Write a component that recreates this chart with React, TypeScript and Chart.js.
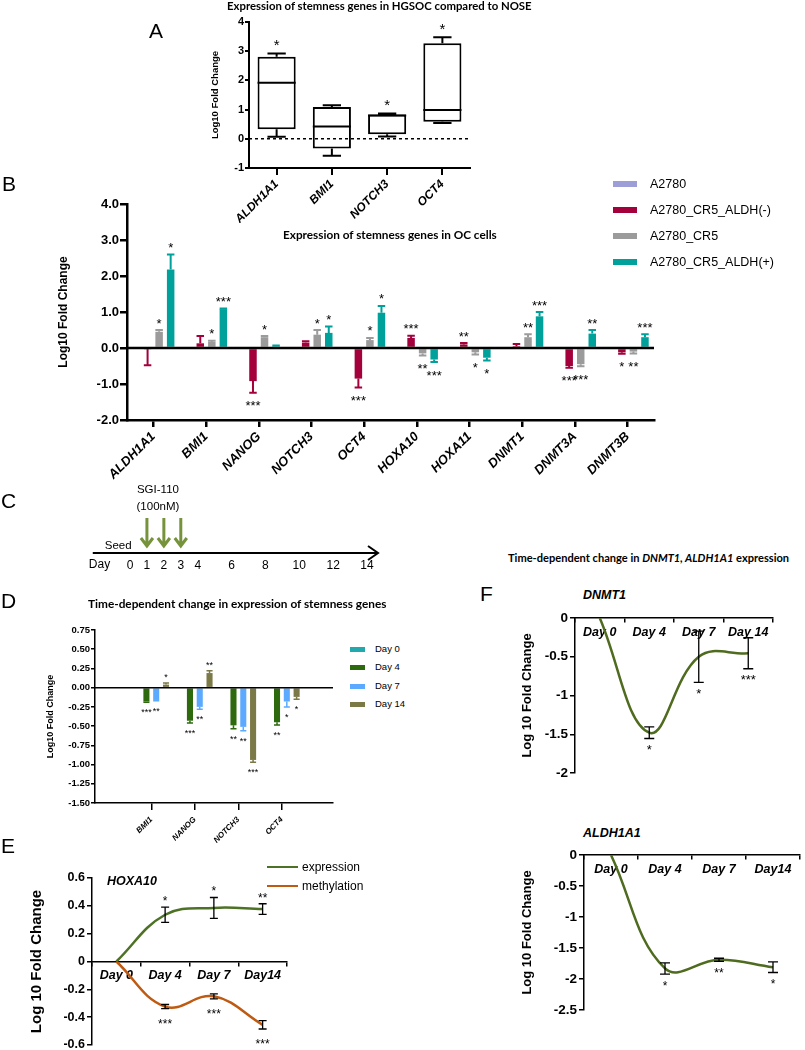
import React, { useEffect, useRef } from 'react';
import { Chart, registerables } from 'chart.js';

Chart.register(...registerables);
Chart.defaults.color = '#000';

const ARIAL = '"Liberation Sans", Arial, Helvetica, sans-serif';
const CALIBRI = 'Lato, "Open Sans", sans-serif';

// ---------------- Panel A : box plot ----------------
const A_GENES = ['ALDH1A1', 'BMI1', 'NOTCH3', 'OCT4'];
const A_MIN = [0.07, -0.58, 0.08, 0.54];
const A_Q1 = [0.33, -0.33, 0.16, 0.58];
const A_MEDIAN = [1.92, 0.42, 0.8, 0.99];
const A_Q3 = [2.81, 1.09, 0.83, 3.27];
const A_MAX = [2.92, 1.15, 0.87, 3.48];
const A_STARS = ['*', '', '*', '*'];

// ---------------- Panel B : grouped bars ----------------
const B_GENES = ['ALDH1A1', 'BMI1', 'NANOG', 'NOTCH3', 'OCT4', 'HOXA10', 'HOXA11', 'DNMT1', 'DNMT3A', 'DNMT3B'];
const B_SERIES = ['A2780', 'A2780_CR5_ALDH(-)', 'A2780_CR5', 'A2780_CR5_ALDH(+)'];
const B_COLORS = ['#9d9dd8', '#a3003c', '#9b9b9b', '#00a19b'];
const B_A2780 = [0, 0, 0, 0, 0, 0, 0, 0, 0, 0];
const B_A2780_ERR = [0, 0, 0, 0, 0, 0, 0, 0, 0, 0];
const B_A2780_STARS = ['', '', '', '', '', '', '', '', '', ''];
const B_ALDH_NEG = [-0.03, 0.13, -0.92, 0.15, -0.85, 0.28, 0.1, 0.05, -0.5, -0.12];
const B_ALDH_NEG_ERR = [0.45, 0.2, 0.32, 0.04, 0.25, 0.06, 0.04, 0.06, 0.05, 0.04];
const B_ALDH_NEG_STARS = ['', '', '***', '', '***', '***', '**', '', '***', '*'];
const B_CR5 = [0.45, 0.17, 0.3, 0.37, 0.22, -0.15, -0.12, 0.3, -0.45, -0.1];
const B_CR5_ERR = [0.05, 0.03, 0.03, 0.13, 0.06, 0.06, 0.06, 0.08, 0.06, 0.05];
const B_CR5_STARS = ['*', '*', '*', '*', '*', '**', '*', '**', '***', '**'];
const B_ALDH_POS = [2.18, 1.08, 0.05, 0.42, 0.98, -0.32, -0.27, 0.88, 0.4, 0.3];
const B_ALDH_POS_ERR = [0.42, 0.02, 0.02, 0.18, 0.19, 0.07, 0.08, 0.12, 0.1, 0.08];
const B_ALDH_POS_STARS = ['*', '***', '', '*', '*', '***', '*', '***', '**', '***'];

// ---------------- Panel C : timeline ----------------
const C_DAYS = [0, 1, 2, 3, 4, 6, 8, 10, 12, 14];
const C_TREATMENT_DAYS = [1, 2, 3];
const C_ARROW_COLOR = '#76933c';

// ---------------- Panel D : grouped bars ----------------
const D_GENES = ['BMI1', 'NANOG', 'NOTCH3', 'OCT4'];
const D_SERIES = ['Day 0', 'Day 4', 'Day 7', 'Day 14'];
const D_COLORS = ['#22a9ae', '#2d6a0e', '#5caaff', '#7b7946'];
const D_DAY0 = [0, 0, 0, 0];
const D_DAY0_ERR = [0, 0, 0, 0];
const D_DAY0_STARS = ['', '', '', ''];
const D_DAY4 = [-0.18, -0.43, -0.49, -0.45];
const D_DAY4_ERR = [0.01, 0.03, 0.045, 0.035];
const D_DAY4_STARS = ['***', '***', '**', '**'];
const D_DAY7 = [-0.16, -0.25, -0.51, -0.18];
const D_DAY7_ERR = [0.01, 0.03, 0.05, 0.07];
const D_DAY7_STARS = ['**', '**', '**', '*'];
const D_DAY14 = [0.04, 0.19, -0.94, -0.12];
const D_DAY14_ERR = [0.02, 0.03, 0.03, 0.03];
const D_DAY14_STARS = ['*', '**', '***', '*'];

// ---------------- Panel E : HOXA10 lines ----------------
const E_DAYS = ['Day 0', 'Day 4', 'Day 7', 'Day14'];
const E_SERIES = ['expression', 'methylation'];
const E_COLORS = ['#4e7225', '#bf5a12'];
const E_EXPRESSION = [0, 0.336, 0.385, 0.377];
const E_EXPRESSION_ERR = [0, 0.055, 0.075, 0.038];
const E_EXPRESSION_STARS = ['', '*', '*', '**'];
const E_METHYLATION = [0, -0.324, -0.25, -0.455];
const E_METHYLATION_ERR = [0, 0.015, 0.018, 0.03];
const E_METHYLATION_STARS = ['', '***', '***', '***'];

// ---------------- Panel F : DNMT1 / ALDH1A1 lines ----------------
const F_COLOR = '#4f6b1f';
const F_DNMT1_DAYS = ['Day 0', 'Day 4', 'Day 7', 'Day 14'];
const F_DNMT1 = [0, -1.48, -0.5, -0.455];
const F_DNMT1_ERR = [0, 0.075, 0.33, 0.2];
const F_DNMT1_STARS = ['', '*', '*', '***'];
const F_ALDH_DAYS = ['Day 0', 'Day 4', 'Day 7', 'Day14'];
const F_ALDH1A1 = [0, -1.83, -1.69, -1.81];
const F_ALDH1A1_ERR = [0, 0.09, 0.025, 0.085];
const F_ALDH1A1_STARS = ['', '*', '**', '*'];

// ---------------- helpers ----------------
type Box = { x: number; y: number; w: number; h: number };
type Area = { l: number; r: number; t: number; b: number };

function layoutPad(box: Box, area: Area, yW: number, xH: number) {
  return {
    padding: {
      left: area.l - box.x - yW,
      right: box.x + box.w - area.r,
      top: area.t - box.y,
      bottom: box.y + box.h - area.b - xH,
    },
  };
}
const zeroPad = (s: any) => {
  s.paddingTop = 0; s.paddingBottom = 0; s.paddingLeft = 0; s.paddingRight = 0;
};
const fixW = (w: number) => (s: any) => { s.width = w; zeroPad(s); };
const fixH = (h: number) => (s: any) => { s.height = h; zeroPad(s); };

function baseOptions(box: Box, area: Area, yW: number, xH: number) {
  return {
    responsive: false,
    maintainAspectRatio: false,
    animation: false,
    devicePixelRatio: 1,
    events: [],
    layout: layoutPad(box, area, yW, xH),
    plugins: { legend: { display: false }, tooltip: { enabled: false }, title: { display: false } },
  };
}
const tickFont = (size: number, italic = false) => ({ family: ARIAL, size, weight: 'bold', style: italic ? 'italic' : 'normal' });
const axisGrid = (tickLength: number, lw: number, offset = false) => ({
  display: true, drawOnChartArea: false, drawTicks: true, tickLength, color: '#000', lineWidth: lw, offset,
});
const axisBorder = (w: number) => ({ display: true, color: '#000', width: w });
const yTitle = (text: string, size: number) => ({
  display: true, text, font: { family: ARIAL, size, weight: 'bold' }, color: '#000', padding: 0,
});

function drawStars(ctx: any, text: string, x: number, cy: number, size: number) {
  ctx.save();
  ctx.font = `${size}px ${ARIAL}`;
  ctx.fillStyle = '#000';
  ctx.textAlign = 'center';
  ctx.textBaseline = 'alphabetic';
  ctx.fillText(text, x, cy + 0.58 * size);
  ctx.restore();
}

function zeroLinePlugin(id: string, lw: number) {
  return {
    id,
    afterDatasetsDraw(chart: any) {
      const { ctx, chartArea } = chart;
      const y = chart.scales.y.getPixelForValue(0);
      ctx.save();
      ctx.strokeStyle = '#000';
      ctx.lineWidth = lw;
      ctx.beginPath();
      ctx.moveTo(chartArea.left, y);
      ctx.lineTo(chartArea.right, y);
      ctx.stroke();
      ctx.restore();
    },
  };
}

function barErrPlugin(id: string, vals: number[][], errs: number[][], stars: string[][], colors: string[], lw: number, starSize: number, gap: number) {
  return {
    id,
    afterDatasetsDraw(chart: any) {
      const { ctx } = chart;
      const ys = chart.scales.y;
      vals.forEach((arr, di) => {
        const meta = chart.getDatasetMeta(di);
        arr.forEach((v, i) => {
          const el: any = meta.data[i];
          if (!el) return;
          const sign = v >= 0 ? 1 : -1;
          const e = errs[di][i];
          const yBar = ys.getPixelForValue(v);
          const yEnd = ys.getPixelForValue(v + sign * e);
          if (e > 0) {
            ctx.save();
            ctx.strokeStyle = colors[di];
            ctx.lineWidth = lw;
            ctx.beginPath();
            ctx.moveTo(el.x, yBar);
            ctx.lineTo(el.x, yEnd);
            ctx.moveTo(el.x - el.width / 2, yEnd);
            ctx.lineTo(el.x + el.width / 2, yEnd);
            ctx.stroke();
            ctx.restore();
          }
          const s = stars[di][i];
          if (s) drawStars(ctx, s, el.x, yEnd - sign * gap, starSize);
        });
      });
    },
  };
}

function lineErrPlugin(id: string, vals: number[][], errs: number[][], stars: string[][], dirs: number[], gaps: number[], capHalf: number, starSize: number) {
  return {
    id,
    afterDatasetsDraw(chart: any) {
      const { ctx } = chart;
      const ys = chart.scales.y;
      vals.forEach((arr, di) => {
        const meta = chart.getDatasetMeta(di);
        arr.forEach((v, i) => {
          const el: any = meta.data[i];
          if (!el) return;
          const e = errs[di][i];
          const yT = ys.getPixelForValue(v + e);
          const yB = ys.getPixelForValue(v - e);
          if (e > 0) {
            ctx.save();
            ctx.strokeStyle = '#000';
            ctx.lineWidth = 1.3;
            ctx.beginPath();
            ctx.moveTo(el.x, yT); ctx.lineTo(el.x, yB);
            ctx.moveTo(el.x - capHalf, yT); ctx.lineTo(el.x + capHalf, yT);
            ctx.moveTo(el.x - capHalf, yB); ctx.lineTo(el.x + capHalf, yB);
            ctx.stroke();
            ctx.restore();
          }
          const s = stars[di][i];
          if (s) drawStars(ctx, s, el.x, dirs[di] > 0 ? yT - gaps[di] : yB + gaps[di], starSize);
        });
      });
    },
  };
}

function ChartBox({ box, make }: { box: Box; make: () => any }) {
  const ref = useRef<HTMLCanvasElement>(null);
  useEffect(() => {
    const chart = new Chart(ref.current as HTMLCanvasElement, make());
    return () => chart.destroy();
  }, []);
  return (
    <canvas
      ref={ref}
      width={box.w}
      height={box.h}
      style={{ position: 'absolute', left: box.x, top: box.y, width: box.w, height: box.h }}
    />
  );
}

function fitSize(text: string, family: string, weight: string, width: number) {
  const c = document.createElement('canvas').getContext('2d') as CanvasRenderingContext2D;
  c.font = `${weight} 100px ${family}`;
  return (100 * width) / c.measureText(text).width;
}

function Txt({ x, y, size, children, bold = false, italic = false, family = ARIAL, color = '#000' }: any) {
  return (
    <div
      style={{
        position: 'absolute', left: x, top: y, transform: 'translateY(-50%)',
        fontFamily: family, fontSize: size, fontWeight: bold ? 700 : 400,
        fontStyle: italic ? 'italic' : 'normal', lineHeight: 1, whiteSpace: 'nowrap', color,
      }}
    >
      {children}
    </div>
  );
}

// ---------------- Chart A ----------------
const A_BOX = { x: 150, y: 12, w: 340, h: 222 };
const A_AREA = { l: 249, r: 470, t: 22, b: 168 };
const boxPlotPlugin = {
  id: 'boxWhiskers',
  afterDatasetsDraw(chart: any) {
    const { ctx, chartArea } = chart;
    const ys = chart.scales.y;
    const meta = chart.getDatasetMeta(0);
    ctx.save();
    const y0 = ys.getPixelForValue(0);
    ctx.strokeStyle = '#000';
    ctx.lineWidth = 1.5;
    ctx.setLineDash([3, 3]);
    ctx.beginPath();
    ctx.moveTo(chartArea.left, y0);
    ctx.lineTo(chartArea.right, y0);
    ctx.stroke();
    ctx.setLineDash([]);
    ctx.lineWidth = 2;
    meta.data.forEach((el: any, i: number) => {
      const half = el.width / 2;
      const cap = el.width * 0.24;
      const yMed = ys.getPixelForValue(A_MEDIAN[i]);
      const yQ1 = ys.getPixelForValue(A_Q1[i]);
      const yQ3 = ys.getPixelForValue(A_Q3[i]);
      const yMin = ys.getPixelForValue(A_MIN[i]);
      const yMax = ys.getPixelForValue(A_MAX[i]);
      ctx.beginPath();
      ctx.moveTo(el.x - half, yMed); ctx.lineTo(el.x + half, yMed);
      ctx.moveTo(el.x, yQ3); ctx.lineTo(el.x, yMax);
      ctx.moveTo(el.x - cap, yMax); ctx.lineTo(el.x + cap, yMax);
      ctx.moveTo(el.x, yQ1); ctx.lineTo(el.x, yMin);
      ctx.moveTo(el.x - cap, yMin); ctx.lineTo(el.x + cap, yMin);
      ctx.stroke();
      if (A_STARS[i]) drawStars(ctx, A_STARS[i], el.x, yMax - 12, 15);
    });
    ctx.restore();
  },
};
const makeA = () => ({
  type: 'bar',
  data: {
    labels: A_GENES,
    datasets: [{
      data: A_GENES.map((_, i) => [A_Q1[i], A_Q3[i]]),
      backgroundColor: '#fff', borderColor: '#000', borderWidth: 2, borderSkipped: false,
      categoryPercentage: 1, barPercentage: 0.69,
    }],
  },
  options: {
    ...baseOptions(A_BOX, A_AREA, 39, 55),
    scales: {
      x: {
        type: 'category', offset: true,
        grid: axisGrid(7, 2, false), border: axisBorder(2),
        ticks: { font: tickFont(12, true), color: '#000', maxRotation: 45, minRotation: 45, padding: 2, autoSkip: false },
        afterFit: fixH(55),
      },
      y: {
        min: -1, max: 4,
        ticks: { stepSize: 1, font: tickFont(11), color: '#000', padding: 1 },
        grid: axisGrid(4, 2), border: axisBorder(2),
        title: yTitle('Log10 Fold Change', 9.5),
        afterFit: fixW(39),
      },
    },
  },
  plugins: [boxPlotPlugin],
});

// ---------------- Chart B ----------------
const B_BOX = { x: 0, y: 190, w: 670, h: 300 };
const B_AREA = { l: 127, r: 654, t: 204, b: 420 };
const B_VALUES = [B_A2780, B_ALDH_NEG, B_CR5, B_ALDH_POS];
const B_ERRS = [B_A2780_ERR, B_ALDH_NEG_ERR, B_CR5_ERR, B_ALDH_POS_ERR];
const B_STARS = [B_A2780_STARS, B_ALDH_NEG_STARS, B_CR5_STARS, B_ALDH_POS_STARS];
const makeB = () => ({
  type: 'bar',
  data: {
    labels: B_GENES,
    datasets: B_SERIES.map((name, k) => ({
      label: name, data: B_VALUES[k], backgroundColor: B_COLORS[k], borderWidth: 0,
      categoryPercentage: 0.876, barPercentage: 0.65,
    })),
  },
  options: {
    ...baseOptions(B_BOX, B_AREA, 71, 60),
    scales: {
      x: {
        type: 'category', offset: true,
        grid: axisGrid(7, 2.5, false), border: axisBorder(2.5),
        ticks: { font: tickFont(13, true), color: '#000', maxRotation: 45, minRotation: 45, padding: 2, autoSkip: false },
        afterFit: fixH(60),
      },
      y: {
        min: -2, max: 4,
        ticks: { stepSize: 0.5, font: tickFont(13), color: '#000', padding: 1, callback: (v: number) => v.toFixed(1) },
        grid: axisGrid(7, 2.5), border: axisBorder(2.5),
        title: yTitle('Log10 Fold Change', 12),
        afterFit: fixW(71),
      },
    },
  },
  plugins: [zeroLinePlugin('zeroB', 2.5), barErrPlugin('errB', B_VALUES, B_ERRS, B_STARS, B_COLORS, 2, 13, 10)],
});

// ---------------- Chart C (timeline) ----------------
const C_BOX = { x: 80, y: 470, w: 320, h: 110 };
const C_AREA = { l: 130, r: 367, t: 515, b: 553 };
const C_AXIS_FROM = -2.2;
const C_AXIS_TO = 14.65;
const C_DAY_LABEL_AT = -1.8;
const C_SEED_AT = -0.7;
const C_DRUG_LABEL_AT = 1.65;
const timelinePlugin = {
  id: 'timeline',
  afterDraw(chart: any) {
    const { ctx, chartArea } = chart;
    const xs = chart.scales.x;
    const yAx = chartArea.bottom;
    const xa = xs.getPixelForValue(C_AXIS_FROM);
    const xb = xs.getPixelForValue(C_AXIS_TO);
    ctx.save();
    ctx.strokeStyle = '#000';
    ctx.lineWidth = 2;
    ctx.beginPath();
    ctx.moveTo(xa, yAx); ctx.lineTo(xb, yAx);
    ctx.moveTo(xb - 10, yAx - 7); ctx.lineTo(xb, yAx); ctx.lineTo(xb - 10, yAx + 7);
    ctx.stroke();
    ctx.fillStyle = '#000';
    ctx.textAlign = 'center';
    ctx.textBaseline = 'middle';
    ctx.font = `12px ${ARIAL}`;
    ctx.fillText('Day', xs.getPixelForValue(C_DAY_LABEL_AT), yAx + 12);
    ctx.font = `11.5px ${ARIAL}`;
    ctx.fillText('Seed', xs.getPixelForValue(C_SEED_AT), yAx - 7);
    const xl = xs.getPixelForValue(C_DRUG_LABEL_AT);
    ctx.fillText('SGI-110', xl, yAx - 63);
    ctx.fillText('(100nM)', xl, yAx - 46);
    const meta = chart.getDatasetMeta(0);
    ctx.strokeStyle = C_ARROW_COLOR;
    ctx.lineWidth = 3;
    meta.data.forEach((pt: any) => {
      ctx.beginPath();
      ctx.moveTo(pt.x, yAx - 35); ctx.lineTo(pt.x, yAx - 7);
      ctx.moveTo(pt.x - 6, yAx - 15); ctx.lineTo(pt.x, yAx - 7); ctx.lineTo(pt.x + 6, yAx - 15);
      ctx.stroke();
    });
    ctx.restore();
  },
};
const makeC = () => ({
  type: 'scatter',
  data: { datasets: [{ data: C_TREATMENT_DAYS.map((d) => ({ x: d, y: 0.5 })), pointRadius: 0 }] },
  options: {
    ...baseOptions(C_BOX, C_AREA, 0, 20),
    scales: {
      x: {
        type: 'linear', min: 0, max: 14,
        afterBuildTicks: (s: any) => { s.ticks = C_DAYS.map((d) => ({ value: d })); },
        ticks: { font: { family: ARIAL, size: 12 }, color: '#000', padding: 5, maxRotation: 0, autoSkip: false },
        grid: { display: false, drawTicks: false }, border: { display: false },
        afterFit: fixH(20),
      },
      y: { display: false, min: 0, max: 1 },
    },
  },
  plugins: [timelinePlugin],
});

// ---------------- Chart D ----------------
const D_BOX = { x: 30, y: 620, w: 310, h: 232 };
const D_AREA = { l: 95, r: 333, t: 630, b: 803 };
const D_VALUES = [D_DAY0, D_DAY4, D_DAY7, D_DAY14];
const D_ERRS = [D_DAY0_ERR, D_DAY4_ERR, D_DAY7_ERR, D_DAY14_ERR];
const D_STARS = [D_DAY0_STARS, D_DAY4_STARS, D_DAY7_STARS, D_DAY14_STARS];
const makeD = () => ({
  type: 'bar',
  data: {
    datasets: D_SERIES.map((name, k) => ({
      label: name, data: D_VALUES[k].map((v, i) => ({ x: i, y: v })), backgroundColor: D_COLORS[k],
      borderWidth: 0, categoryPercentage: 0.9, barPercentage: 0.62,
    })),
  },
  options: {
    ...baseOptions(D_BOX, D_AREA, 50, 40),
    scales: {
      x: {
        type: 'linear', min: -0.61, max: 3.49,
        afterBuildTicks: (s: any) => { s.ticks = D_GENES.map((_, i) => ({ value: i })); },
        ticks: { font: tickFont(8, true), color: '#000', maxRotation: 45, minRotation: 45, padding: 5, autoSkip: false, callback: (v: number) => D_GENES[v] ?? '' },
        grid: axisGrid(7, 1.5, false), border: axisBorder(1.5),
        afterFit: fixH(40),
      },
      y: {
        min: -1.5, max: 0.75,
        ticks: { stepSize: 0.25, font: tickFont(9.5), color: '#000', padding: 1, callback: (v: number) => v.toFixed(2) },
        grid: axisGrid(4, 1.5), border: axisBorder(1.5),
        title: yTitle('Log10 Fold Change', 9),
        afterFit: fixW(50),
      },
    },
  },
  plugins: [zeroLinePlugin('zeroD', 1.5), barErrPlugin('errD', D_VALUES, D_ERRS, D_STARS, D_COLORS, 1.5, 9, 8)],
});

// ---------------- Line chart factory (E, F) ----------------
function lineChart(box: Box, area: Area, yW: number, labels: string[], series: any[], yMin: number, yMax: number, step: number, tickSize: number, titleSize: number, plugin: any) {
  return () => ({
    type: 'line',
    data: {
      labels,
      datasets: series.map((s) => ({
        label: s.label, data: s.data, borderColor: s.color, backgroundColor: s.color,
        borderWidth: 2.5, pointRadius: 0, tension: 0.4, fill: false,
      })),
    },
    options: {
      ...baseOptions(box, area, yW, 0),
      scales: {
        x: {
          type: 'category', position: { y: 0 }, offset: true,
          grid: axisGrid(4, 1.5, true), border: axisBorder(1.5),
          ticks: { font: tickFont(12.5, true), color: '#000', padding: 3, maxRotation: 0, autoSkip: false },
          afterFit: zeroPad,
        },
        y: {
          min: yMin, max: yMax,
          ticks: { stepSize: step, font: tickFont(tickSize), color: '#000', padding: 2, callback: (v: number) => String(Math.round(v * 10) / 10) },
          grid: axisGrid(5, 1.5), border: axisBorder(1.5),
          title: yTitle('Log 10 Fold Change', titleSize),
          afterFit: fixW(yW),
        },
      },
    },
    plugins: [plugin],
  });
}

const E_BOX = { x: 20, y: 866, w: 300, h: 190 };
const E_AREA = { l: 92, r: 287, t: 878, b: 1045 };
const makeE = lineChart(
  E_BOX, E_AREA, 64, E_DAYS,
  [
    { label: E_SERIES[0], data: E_EXPRESSION, color: E_COLORS[0] },
    { label: E_SERIES[1], data: E_METHYLATION, color: E_COLORS[1] },
  ],
  -0.6, 0.6, 0.2, 12.5, 15,
  lineErrPlugin('errE', [E_EXPRESSION, E_METHYLATION], [E_EXPRESSION_ERR, E_METHYLATION_ERR], [E_EXPRESSION_STARS, E_METHYLATION_STARS], [1, -1], [9, 12], 4, 12),
);

const F1_BOX = { x: 480, y: 605, w: 325, h: 180 };
const F1_AREA = { l: 575, r: 773, t: 618, b: 773 };
const makeF1 = lineChart(
  F1_BOX, F1_AREA, 55, F_DNMT1_DAYS,
  [{ label: 'DNMT1', data: F_DNMT1, color: F_COLOR }],
  -2, 0, 0.5, 13.5, 13,
  lineErrPlugin('errF1', [F_DNMT1], [F_DNMT1_ERR], [F_DNMT1_STARS], [-1], [8], 5, 13),
);

const F2_BOX = { x: 480, y: 845, w: 325, h: 175 };
const F2_AREA = { l: 584, r: 800, t: 855, b: 1010 };
const makeF2 = lineChart(
  F2_BOX, F2_AREA, 64, F_ALDH_DAYS,
  [{ label: 'ALDH1A1', data: F_ALDH1A1, color: F_COLOR }],
  -2.5, 0, 0.5, 13.5, 13,
  lineErrPlugin('errF2', [F_ALDH1A1], [F_ALDH1A1_ERR], [F_ALDH1A1_STARS], [-1], [9], 5, 12),
);

// ---------------- App ----------------
const B_LEGEND_ROWS = [184, 210, 236, 262];
const D_LEGEND_ROWS = [649, 667, 686, 704];
const E_LEGEND_ROWS = [867, 886];

export default function App() {
  const titleA = 'Expression of stemness genes in HGSOC compared to NOSE';
  const sizeA = fitSize('Expression of stemness genes in HGSOC compared', CALIBRI, 'bold', 258);
  const titleB = 'Expression of stemness genes in OC cells';
  const sizeB = fitSize('Expression of stemness genes in OC c', CALIBRI, 'bold', 197);
  const titleD = 'Time-dependent change in expression of stemness genes';
  const sizeD = fitSize(titleD, CALIBRI, 'bold', 299);
  const sizeF = fitSize('Time-dependent change in DNMT1, ALDH1A1 expression', CALIBRI, 'bold', 287);

  return (
    <div style={{ position: 'absolute', left: 0, top: 0, width: 805, height: 1050, background: '#fff', overflow: 'hidden' }}>
      <ChartBox box={A_BOX} make={makeA} />
      <ChartBox box={B_BOX} make={makeB} />
      <ChartBox box={C_BOX} make={makeC} />
      <ChartBox box={D_BOX} make={makeD} />
      <ChartBox box={E_BOX} make={makeE} />
      <ChartBox box={F1_BOX} make={makeF1} />
      <ChartBox box={F2_BOX} make={makeF2} />

      {/* panel letters */}
      <Txt x={149} y={30} size={21}>A</Txt>
      <Txt x={2} y={183} size={21}>B</Txt>
      <Txt x={1} y={500} size={21}>C</Txt>
      <Txt x={1} y={600} size={21}>D</Txt>
      <Txt x={1} y={845} size={21}>E</Txt>
      <Txt x={480} y={593} size={21}>F</Txt>

      {/* titles */}
      <Txt x={227} y={6} size={sizeA} bold family={CALIBRI}>{titleA}</Txt>
      <Txt x={283} y={235} size={sizeB} bold family={CALIBRI}>{titleB}</Txt>
      <Txt x={88} y={604} size={sizeD} bold family={CALIBRI}>{titleD}</Txt>
      <Txt x={508} y={558} size={sizeF} bold family={CALIBRI}>
        Time-dependent change in <i>DNMT1, ALDH1A1</i> expression
      </Txt>

      {/* gene labels */}
      <Txt x={107} y={881} size={12.5} bold italic>HOXA10</Txt>
      <Txt x={583} y={595} size={12.5} bold italic>DNMT1</Txt>
      <Txt x={583} y={833} size={12.5} bold italic>ALDH1A1</Txt>

      {/* legend B */}
      {B_SERIES.map((name, k) => (
        <React.Fragment key={name}>
          <div style={{ position: 'absolute', left: 613, top: B_LEGEND_ROWS[k] - 3, width: 24, height: 6, background: B_COLORS[k] }} />
          <Txt x={650} y={B_LEGEND_ROWS[k]} size={12.5}>{name}</Txt>
        </React.Fragment>
      ))}

      {/* legend D */}
      {D_SERIES.map((name, k) => (
        <React.Fragment key={name}>
          <div style={{ position: 'absolute', left: 350, top: D_LEGEND_ROWS[k] - 2.5, width: 15, height: 5, background: D_COLORS[k] }} />
          <Txt x={375} y={D_LEGEND_ROWS[k]} size={9.5}>{name}</Txt>
        </React.Fragment>
      ))}

      {/* legend E */}
      {E_SERIES.map((name, k) => (
        <React.Fragment key={name}>
          <div style={{ position: 'absolute', left: 267, top: E_LEGEND_ROWS[k] - 1.25, width: 31, height: 2.5, background: E_COLORS[k] }} />
          <Txt x={302} y={E_LEGEND_ROWS[k]} size={12}>{name}</Txt>
        </React.Fragment>
      ))}
    </div>
  );
}
